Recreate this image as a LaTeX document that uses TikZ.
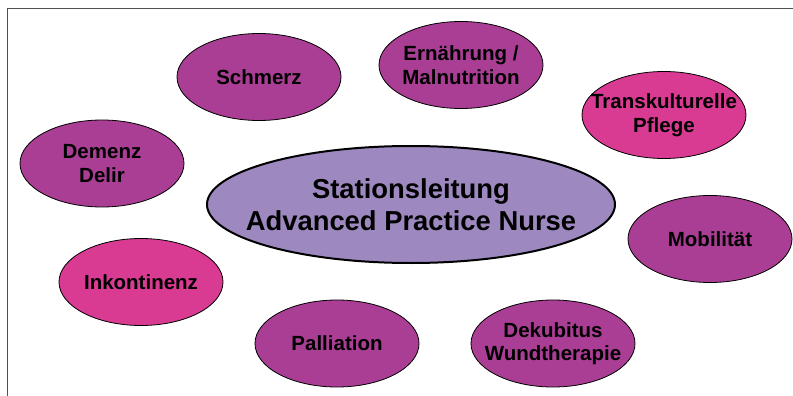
\documentclass[tikz,border=0pt]{standalone}
\usepackage{fontspec}
\setmainfont{Liberation Sans}
\usetikzlibrary{shapes.geometric}
\definecolor{plum}{HTML}{AA3E94}
\definecolor{pinkc}{HTML}{D93B93}
\definecolor{lav}{HTML}{9D89C0}
\definecolor{framec}{HTML}{505050}
\tikzset{
  topic/.style={ellipse, draw=black, line width=0.8pt, fill=plum, minimum width=164pt, minimum height=87pt, inner sep=0pt},
  topicpink/.style={topic, fill=pinkc},
  hub/.style={ellipse, draw=black, line width=2pt, fill=lav, minimum width=408pt, minimum height=117pt, inner sep=0pt},
  topictext/.style={align=center, inner sep=0pt, font=\fontsize{20.5}{23.5}\selectfont\bfseries},
  hubtext/.style={align=center, inner sep=0pt, font=\fontsize{27.4}{32}\selectfont\bfseries},
  frameline/.style={draw=framec, line width=1pt}
}
\begin{document}
\begin{tikzpicture}[x=1pt,y=-1pt]
\useasboundingbox (0,0) rectangle (793,396);
\coordinate (fc) at (7,9);
\coordinate (fr) at (793,9);
\coordinate (fb) at (7,396);
\draw[frameline] (fb) -- (fc) -- (fr);
\node[hub] (hub) at (411,204.5) {};
\node[hubtext] (hubt) at (hub) {Stationsleitung\\Advanced Practice Nurse};
\node[topic] (schmerz) at (259,77) {};
\node[topictext] (schmerzt) at (schmerz) {Schmerz};
\node[topic] (ern) at (461,65) {};
\node[topictext] (ernt) at (ern) {Ernährung /\\Malnutrition};
\node[topicpink] (trans) at (664,115) {};
\node[topictext] (transt) at (trans) {Transkulturelle\\Pflege};
\node[topic] (demenz) at (102,163.5) {};
\node[topictext] (demenzt) at (demenz) {Demenz\\Delir};
\node[topic] (mob) at (710,239) {};
\node[topictext] (mobt) at (mob) {Mobilität};
\node[topicpink] (inko) at (141,282) {};
\node[topictext] (inkot) at (inko) {Inkontinenz};
\node[topic] (pall) at (337,343.5) {};
\node[topictext] (pallt) at (pall) {Palliation};
\node[topic] (deku) at (553,343.5) {};
\node[topictext] (dekut) at (deku) {Dekubitus\\Wundtherapie};
\end{tikzpicture}
\end{document}
